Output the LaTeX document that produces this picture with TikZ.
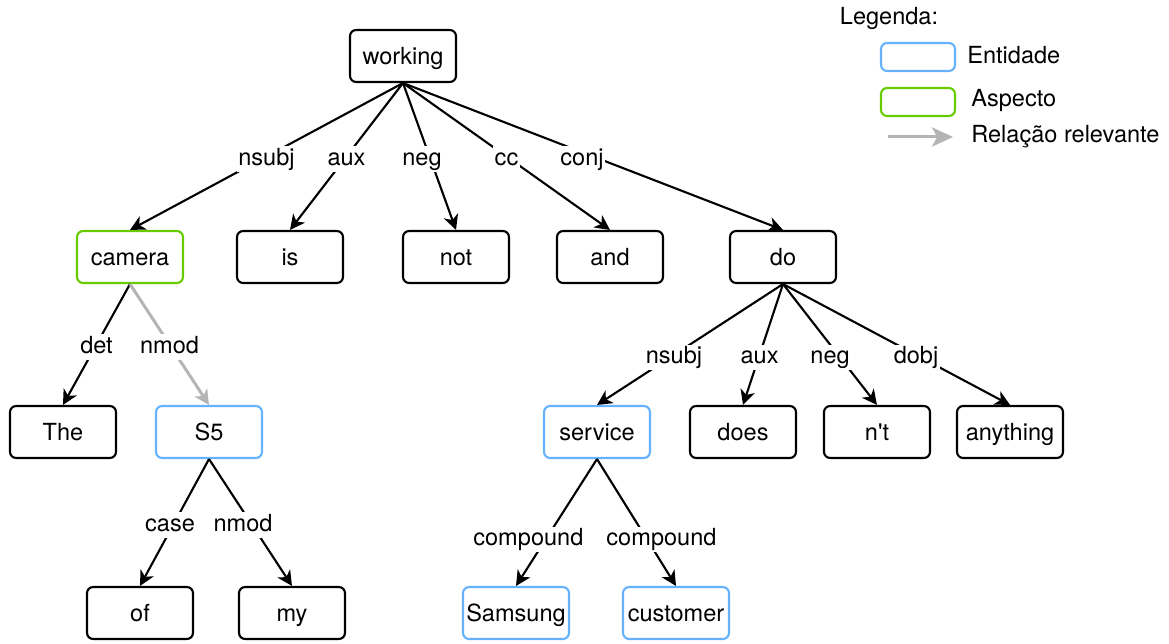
\documentclass[tikz,border=0pt]{standalone}
\usepackage{fontspec}
\setmainfont{TeX Gyre Heros}
\usetikzlibrary{arrows.meta}
\definecolor{entblue}{RGB}{102,178,255}
\definecolor{aspgreen}{RGB}{102,204,0}
\definecolor{relgray}{RGB}{180,180,180}
\begin{document}
\begin{tikzpicture}[x=0.02cm, y=-0.02cm, every node/.style={font=\fontsize{13.4}{16}\selectfont},
  word/.style={draw, line width=1.2pt, rounded corners=3.5pt, minimum width=2.12cm, minimum height=1.04cm, inner sep=0pt, text height=9.7pt, text depth=0pt},
  ent/.style={word, draw=entblue},
  asp/.style={word, draw=aspgreen},
  dep/.style={line width=1.2pt, -{Stealth[length=8.5pt,width=8.5pt,inset=2.5pt]}},
  rel/.style={dep, draw=relgray, line width=1.7pt},
  lbl/.style={fill=white, inner xsep=1pt, inner ysep=1pt, text height=9.7pt, text depth=2.8pt, yshift=-1.4pt}]
\useasboundingbox (0,0) rectangle (1169,644);
\node[word] (working) at (403,56) {working};
\node[asp] (camera) at (130,257) {camera};
\node[word] (is) at (290,257) {is};
\node[word] (not) at (456,257) {not};
\node[word] (and) at (610,257) {and};
\node[word] (do) at (783,257) {do};
\node[word] (the) at (63,432) {The};
\node[ent] (s5) at (209,432) {S5};
\node[ent] (service) at (597,432) {service};
\node[word] (does) at (743,432) {does};
\node[word] (nt) at (877,432) {n\textquotesingle t};
\node[word] (anything) at (1010,432) {anything};
\node[word] (of) at (140,613) {of};
\node[word] (my) at (292,613) {my};
\node[ent] (samsung) at (516,613) {Samsung};
\node[ent] (customer) at (676,613) {customer};
\draw[dep] (working.south) -- (camera.north) node[lbl,midway] {nsubj};
\draw[dep] (working.south) -- (is.north) node[lbl,midway] {aux};
\draw[dep] (working.south) -- (not.north) node[lbl,midway,xshift=-0.15cm] {neg};
\draw[dep] (working.south) -- (and.north) node[lbl,midway] {cc};
\draw[dep] (working.south) -- (do.north) node[lbl,midway,xshift=-0.22cm] {conj};
\draw[dep] (camera.south) -- (the.north) node[lbl,midway] {det};
\draw[rel] (camera.south) -- (s5.north) node[lbl,midway] {nmod};
\draw[dep] (s5.south) -- (of.north) node[lbl,midway,xshift=-0.09cm] {case};
\draw[dep] (s5.south) -- (my.north) node[lbl,midway,xshift=-0.15cm] {nmod};
\draw[dep] (do.south) -- (service.north) node[lbl,pos=0.586] {nsubj};
\draw[dep] (do.south) -- (does.north) node[lbl,pos=0.586] {aux};
\draw[dep] (do.south) -- (nt.north) node[lbl,pos=0.586,xshift=-0.16cm] {neg};
\draw[dep] (do.south) -- (anything.north) node[lbl,pos=0.586] {dobj};
\draw[dep] (service.south) -- (samsung.north) node[lbl,pos=0.613,xshift=-0.38cm] {compound};
\draw[dep] (service.south) -- (customer.north) node[lbl,pos=0.613,xshift=0.32cm] {compound};
\node (legtitle) at (889,18) {Legenda:};
\node[ent, minimum width=1.48cm, minimum height=0.56cm] (legent) at (918,57) {};
\node[anchor=west, inner sep=0pt] (legenttxt) at (967,55) {Entidade};
\node[asp, minimum width=1.48cm, minimum height=0.56cm] (legasp) at (918,102) {};
\node[anchor=west, inner sep=0pt] (legasptxt) at (971,100) {Aspecto};
\coordinate (legfrom) at (888,137);
\coordinate (legto) at (953,137);
\draw[rel, -{Stealth[length=12pt,width=11pt,inset=3pt]}] (legfrom) -- (legto);
\node[anchor=west, inner sep=0pt] (legreltxt) at (971,137) {Relação relevante};
\end{tikzpicture}
\end{document}
